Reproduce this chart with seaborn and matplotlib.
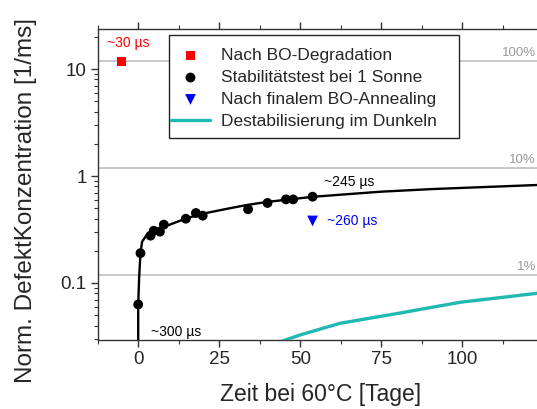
import numpy as np
import pandas as pd
import matplotlib
matplotlib.use("Agg")
import matplotlib.pyplot as plt
import seaborn as sns
from matplotlib.patches import Rectangle
from matplotlib.ticker import LogLocator, NullFormatter, FixedLocator, FixedFormatter

sns.set_style("ticks")
plt.rcParams["font.family"] = ["Liberation Sans", "DejaVu Sans"]

# ---- data ----
degr_t = [-5.2]
degr_v = [11.8]

stab_t = [0.0, 0.7, 3.8, 4.8, 6.7, 7.9, 14.7, 17.8, 19.9, 33.9, 39.9, 45.6, 47.8, 53.8]
stab_v = [0.063, 0.19, 0.277, 0.308, 0.302, 0.351, 0.399, 0.451, 0.426, 0.489, 0.56, 0.605, 0.605, 0.641]

anneal_t = [53.8]
anneal_v = [0.38]

fit_t = [0.0, 0.0, 0.3, 0.7, 1.2, 2.6, 5.2, 8.8, 14.9, 20.0, 28.3, 33.4, 39.6, 54.0, 74.6, 91.0, 123.0, 126.0]
fit_v = [0.02, 0.0625, 0.115, 0.19, 0.243, 0.281, 0.313, 0.343, 0.402, 0.445, 0.50, 0.535, 0.572, 0.64, 0.713, 0.756, 0.824, 0.83]

dark_t = [43.5, 50.0, 62.3, 81.0, 99.3, 123.0, 126.0]
dark_v = [0.028, 0.0327, 0.042, 0.0525, 0.066, 0.080, 0.081]

ref_levels = [11.8, 1.18, 0.118]
ref_labels = ["100%", "10%", "1%"]

x_ticks = [0, 25, 50, 75, 100]
y_ticks = [0.1, 1, 10]
y_ticklabels = ["0.1", "1", "10"]

lbl_degr = "Nach BO-Degradation"
lbl_stab = "Stabilitätstest bei 1 Sonne"
lbl_anneal = "Nach finalem BO-Annealing"
lbl_dark = "Destabilisierung im Dunkeln"

W, H = 537, 409
fig = plt.figure(figsize=(W / 100, H / 100), dpi=100)
ax = fig.add_axes([97.7 / W, (H - 340) / H, 445.6 / W, 311 / H])
ax.set_yscale("log")

# reference lines
for lv, lb in zip(ref_levels, ref_labels):
    ax.axhline(lv, color="#c0c0c0", lw=1.2, zorder=1)
    ax.text(122.8, lv * 1.045, lb, ha="right", va="bottom", fontsize=9.5, color="#999999")

# curves
sns.lineplot(x=fit_t, y=fit_v, ax=ax, color="black", lw=1.7, sort=False, estimator=None, zorder=3)
sns.lineplot(x=dark_t, y=dark_v, ax=ax, color="#1fb9b2", lw=2.4, sort=False, estimator=None,
             zorder=3, label=lbl_dark)

# points
sns.scatterplot(x=degr_t, y=degr_v, ax=ax, color="#ff0000", marker="s", s=42, edgecolor="none",
                zorder=4, label=lbl_degr)
sns.scatterplot(x=stab_t, y=stab_v, ax=ax, color="black", marker="o", s=50, edgecolor="none",
                zorder=4, label=lbl_stab)
sns.scatterplot(x=anneal_t, y=anneal_v, ax=ax, color="#0000ff", marker="v", s=60, edgecolor="none",
                zorder=4, label=lbl_anneal)

# annotations
ax.text(-3.0, 17.4, "~30 µs", color="#ff0000", fontsize=10, ha="center", va="center")
ax.text(65.0, 0.873, "~245 µs", color="black", fontsize=10, ha="center", va="center")
ax.text(65.9, 0.382, "~260 µs", color="#0000ff", fontsize=10, ha="center", va="center")
ax.text(11.85, 0.0346, "~300 µs", color="black", fontsize=10, ha="center", va="center")

# axes
ax.set_xlim(-12.5, 125)
ax.set_ylim(0.0293, 23.7)
ax.xaxis.set_major_locator(FixedLocator(x_ticks))
ax.xaxis.set_minor_locator(FixedLocator([-12.5, 12.5, 37.5, 62.5, 87.5, 112.5]))
ax.yaxis.set_major_locator(FixedLocator(y_ticks))
ax.yaxis.set_major_formatter(FixedFormatter(y_ticklabels))
ax.yaxis.set_minor_locator(LogLocator(base=10, subs=np.arange(2, 10)))
ax.yaxis.set_minor_formatter(NullFormatter())

ax.tick_params(axis="both", which="major", direction="out", length=5, width=1, labelsize=13.5,
               color="#333333", pad=3)
ax.tick_params(axis="both", which="minor", direction="out", length=3, width=0.8, color="#333333")
ax.tick_params(axis="x", which="both", top=True)
for side in ["left", "bottom", "top"]:
    ax.spines[side].set_color("#333333")
    ax.spines[side].set_linewidth(1.0)
ax.spines["right"].set_visible(False)

ax.set_xlabel("Zeit bei 60°C [Tage]", fontsize=16.5, labelpad=10.5)
ax.set_ylabel("Norm. DefektKonzentration [1/ms]", fontsize=17.5)
ax.yaxis.set_label_coords(-0.136, 0.45)

# legend (frame drawn as a separate box)
frame = Rectangle((169.3 / W, 1 - 138.3 / H), (459 - 169.3) / W, (138.3 - 35) / H,
                  transform=fig.transFigure, facecolor="white", edgecolor="#222222",
                  lw=1.0, zorder=5, clip_on=False)
ax.add_patch(frame)

handles, labels = ax.get_legend_handles_labels()
order = [lbl_degr, lbl_stab, lbl_anneal, lbl_dark]
hmap = dict(zip(labels, handles))
leg = ax.legend([hmap[o] for o in order], order, loc="upper left",
                bbox_to_anchor=(170.5 / W, 1 - 48.0 / H), bbox_transform=fig.transFigure,
                borderaxespad=0, fontsize=12.5, frameon=False,
                handlelength=2.3, handletextpad=0.63, labelspacing=0.39, borderpad=0)
leg.set_zorder(6)

fig.savefig("out.png", dpi=100)
